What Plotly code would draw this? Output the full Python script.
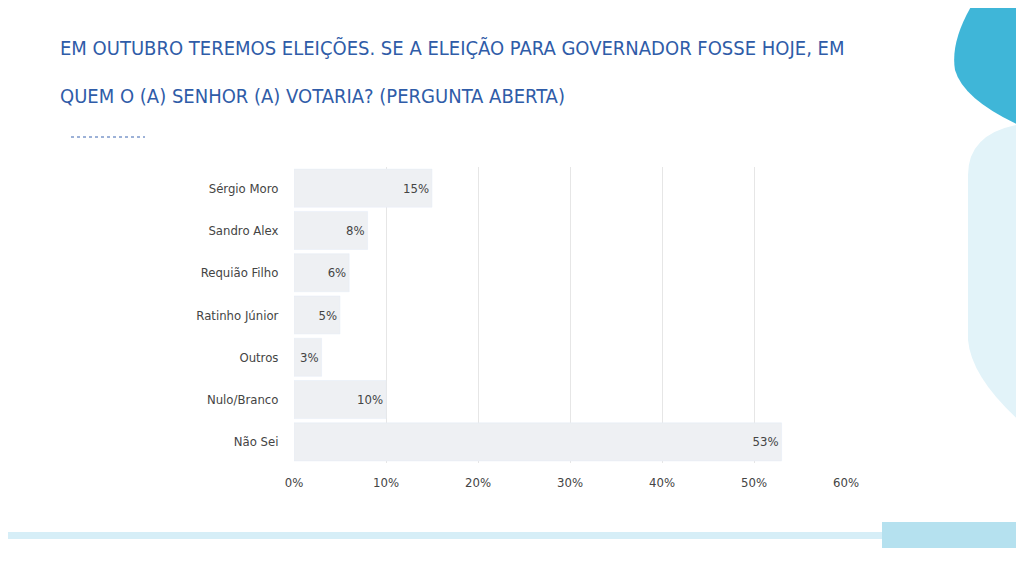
import plotly.graph_objects as go

categories = ["Sérgio Moro", "Sandro Alex", "Requião Filho", "Ratinho Júnior", "Outros", "Nulo/Branco", "Não Sei"]
values = [15, 8, 6, 5, 3, 10, 53]
labels = [f"{v}%" for v in values]
tick_vals = [0, 10, 20, 30, 40, 50, 60]
tick_text = [f"{t}%" for t in tick_vals]
title_lines = ["EM OUTUBRO TEREMOS ELEIÇÕES. SE A ELEIÇÃO PARA GOVERNADOR FOSSE HOJE, EM",
               "QUEM O (A) SENHOR (A) VOTARIA? (PERGUNTA ABERTA)"]

def px(x): return (x - 8) / 1024
def py(y): return 1 - (y - 8) / 576

F = "DejaVu Sans Condensed"
fig = go.Figure(go.Bar(
    y=categories, x=values, orientation="h",
    marker=dict(color="#eef0f3"), width=0.9,
    text=labels, textposition="inside", insidetextanchor="end",
    textfont=dict(color="#444", size=13, family=F),
    cliponaxis=False,
))
annotations = [dict(text=t, xref="paper", yref="paper", x=px(58), y=py(48 + i * 48),
                    xanchor="left", yanchor="middle", showarrow=False,
                    font=dict(family=F, size=20, color="#2f5ca8")) for i, t in enumerate(title_lines)]

fig.update_layout(
    width=1024, height=576, paper_bgcolor="white", plot_bgcolor="white",
    margin=dict(l=0, r=0, t=0, b=0),
    showlegend=False, annotations=annotations,
    xaxis=dict(domain=[px(294), px(846)], range=[0, 60], tickvals=tick_vals, ticktext=tick_text,
               automargin=False,
               showgrid=True, gridcolor="#e6e6e6", zeroline=False, showline=False,
               tickfont=dict(family=F, size=13, color="#444"), ticks="outside", ticklen=7, tickcolor="white"),
    yaxis=dict(domain=[py(463), py(167)], autorange="reversed", showgrid=False, automargin=False,
               tickfont=dict(family=F, size=13, color="#444"), ticks="outside", ticklen=12, tickcolor="white"),
    shapes=[
        dict(type="path", xref="paper", yref="paper",
             path=f"M 1.01 {py(0)} L {px(975)} {py(0)} Q {px(950)} {py(40)} {px(955)} {py(70)} "
                  f"Q {px(965)} {py(105)} 1.01 {py(135)} Z",
             fillcolor="#3fb6d8", line=dict(width=0), layer="below"),
        dict(type="path", xref="paper", yref="paper",
             path=f"M 1.01 {py(122)} Q {px(968)} {py(125)} {px(968)} {py(175)} L {px(968)} {py(340)} "
                  f"Q {px(972)} {py(385)} 1.01 {py(440)} Z",
             fillcolor="#e2f3f9", line=dict(width=0), layer="below"),
        dict(type="rect", xref="paper", yref="paper", x0=-0.01, x1=px(966), y0=py(539), y1=py(532),
             fillcolor="#d6eef7", line=dict(width=0), layer="below"),
        dict(type="rect", xref="paper", yref="paper", x0=px(882), x1=1.01, y0=py(548), y1=py(522),
             fillcolor="#b5e1ef", line=dict(width=0), layer="below"),
        dict(type="line", xref="paper", yref="paper", x0=px(71), x1=px(145), y0=py(137), y1=py(137),
             line=dict(color="#3a64b0", width=1, dash="dot")),
    ],
)
fig.write_html("out.html")
